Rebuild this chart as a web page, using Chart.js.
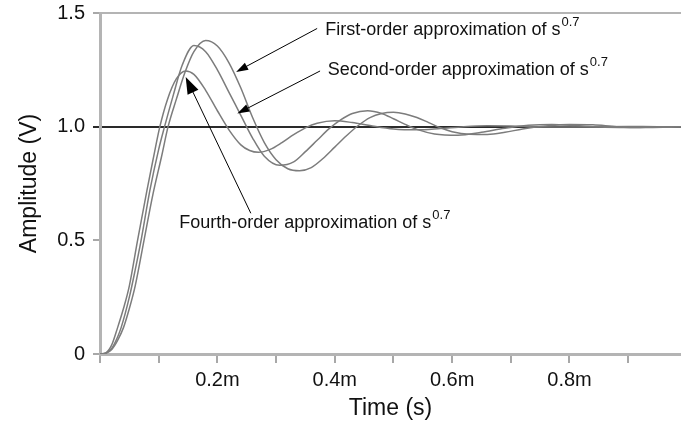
<!DOCTYPE html>
<html>
<head>
<meta charset="utf-8">
<script src="https://cdn.jsdelivr.net/npm/chart.js@4.4.1/dist/chart.umd.min.js"></script>
<style>
  html, body { margin: 0; padding: 0; background: #fff; }
  canvas { display: block; }
</style>
</head>
<body>
<canvas id="stepChart" width="681" height="431"></canvas>
<script>
// step responses, time in ms, amplitude in V
const timeFirst = [0, 0.01, 0.02, 0.03, 0.04, 0.05, 0.06, 0.075, 0.09, 0.105, 0.116, 0.13, 0.145, 0.16, 0.18, 0.20, 0.22, 0.24, 0.26, 0.28, 0.30, 0.32, 0.34, 0.36, 0.38, 0.40, 0.42, 0.44, 0.46, 0.48, 0.50, 0.52, 0.54, 0.56, 0.58, 0.60, 0.63, 0.66, 0.69, 0.72, 0.76, 0.80, 0.84, 0.88, 0.92, 0.96, 0.99];
const ampFirst  = [0, 0.003, 0.02, 0.06, 0.116, 0.2, 0.3, 0.5, 0.7, 0.87, 1.0, 1.12, 1.24, 1.33, 1.379, 1.355, 1.28, 1.17, 1.04, 0.93, 0.855, 0.815, 0.806, 0.82, 0.86, 0.91, 0.96, 1.005, 1.04, 1.058, 1.063, 1.056, 1.04, 1.018, 0.995, 0.978, 0.967, 0.966, 0.975, 0.99, 1.003, 1.01, 1.008, 1.0, 0.996, 0.997, 1.0];

const timeSecond = [0, 0.01, 0.02, 0.03, 0.036, 0.05, 0.06, 0.07, 0.085, 0.10, 0.11, 0.125, 0.14, 0.16, 0.18, 0.20, 0.22, 0.24, 0.26, 0.28, 0.306, 0.33, 0.35, 0.37, 0.39, 0.41, 0.43, 0.456, 0.48, 0.50, 0.52, 0.54, 0.57, 0.61, 0.65, 0.69, 0.73, 0.77, 0.81, 0.85, 0.90, 0.95, 0.99];
const ampSecond  = [0, 0.004, 0.025, 0.075, 0.116, 0.25, 0.37, 0.5, 0.72, 0.9, 1.0, 1.14, 1.27, 1.357, 1.33, 1.25, 1.15, 1.05, 0.95, 0.87, 0.83, 0.845, 0.89, 0.94, 0.99, 1.03, 1.058, 1.07, 1.058, 1.035, 1.01, 0.988, 0.968, 0.962, 0.975, 0.993, 1.006, 1.01, 1.005, 0.998, 0.996, 0.999, 1.0];

const timeFourth = [0, 0.01, 0.02, 0.03, 0.04, 0.05, 0.064, 0.08, 0.09, 0.102, 0.115, 0.13, 0.146, 0.16, 0.18, 0.20, 0.22, 0.24, 0.255, 0.27, 0.29, 0.31, 0.33, 0.35, 0.37, 0.40, 0.43, 0.46, 0.50, 0.54, 0.58, 0.62, 0.66, 0.70, 0.75, 0.80, 0.85, 0.90, 0.95, 0.99];
const ampFourth  = [0, 0.005, 0.04, 0.116, 0.2, 0.3, 0.5, 0.72, 0.85, 1.0, 1.12, 1.21, 1.245, 1.23, 1.16, 1.07, 0.985, 0.92, 0.895, 0.887, 0.9, 0.93, 0.965, 0.995, 1.015, 1.026, 1.018, 1.005, 0.99, 0.986, 0.992, 1.0, 1.004, 1.003, 0.999, 0.998, 1.0, 1.001, 1.0, 1.0];

const xTickLabels = ['', '', '0.2m', '', '0.4m', '', '0.6m', '', '0.8m', ''];
const yTickLabels = ['0', '0.5', '1.0', '1.5'];

// callouts, anchored in data units (ms, V)
const callouts = [
  { text: 'First-order approximation of s', sup: '0.7', at: [0.384, 1.423], from: [0.370, 1.432], to: [0.232, 1.241], head: [12, 4] },
  { text: 'Second-order approximation of s', sup: '0.7', at: [0.388, 1.249], from: [0.375, 1.245], to: [0.234, 1.058], head: [12, 4] },
  { text: 'Fourth-order approximation of s', sup: '0.7', at: [0.135, 0.575], from: [0.257, 0.619], to: [0.146, 1.219], head: [17, 6] }
];

const toPoints = (xs, ys) => xs.map((x, i) => ({ x: x, y: ys[i] }));
const curve = (label, xs, ys) => ({
  label: label,
  data: toPoints(xs, ys),
  borderColor: '#7c7c7c',
  borderWidth: 1.5,
  pointRadius: 0,
  cubicInterpolationMode: 'monotone',
  fill: false
});

const FONT = '"Liberation Sans", Arial, sans-serif';

const calloutPlugin = {
  id: 'callouts',
  afterDatasetsDraw(chart) {
    const { ctx, scales: { x, y } } = chart;
    ctx.save();
    callouts.forEach(c => {
      const x0 = x.getPixelForValue(c.from[0]), y0 = y.getPixelForValue(c.from[1]);
      const x1 = x.getPixelForValue(c.to[0]), y1 = y.getPixelForValue(c.to[1]);
      const ang = Math.atan2(y1 - y0, x1 - x0);
      const [len, half] = c.head;
      ctx.strokeStyle = '#000';
      ctx.fillStyle = '#000';
      ctx.lineWidth = 1;
      ctx.beginPath();
      ctx.moveTo(x0, y0);
      ctx.lineTo(x1 - Math.cos(ang) * len * 0.8, y1 - Math.sin(ang) * len * 0.8);
      ctx.stroke();
      ctx.beginPath();
      ctx.moveTo(x1, y1);
      ctx.lineTo(x1 - Math.cos(ang) * len - Math.sin(ang) * half, y1 - Math.sin(ang) * len + Math.cos(ang) * half);
      ctx.lineTo(x1 - Math.cos(ang) * len + Math.sin(ang) * half, y1 - Math.sin(ang) * len - Math.cos(ang) * half);
      ctx.closePath();
      ctx.fill();

      const tx = x.getPixelForValue(c.at[0]), ty = y.getPixelForValue(c.at[1]);
      ctx.textBaseline = 'middle';
      ctx.textAlign = 'left';
      ctx.font = '18px ' + FONT;
      ctx.fillStyle = '#111';
      ctx.fillText(c.text, tx, ty);
      const w = ctx.measureText(c.text).width;
      ctx.font = '13px ' + FONT;
      ctx.fillText(c.sup, tx + w + 1, ty - 8);
    });
    ctx.restore();
  }
};

const ctx = document.getElementById('stepChart').getContext('2d');
new Chart(ctx, {
  type: 'line',
  data: {
    datasets: [
      curve('First-order', timeFirst, ampFirst),
      curve('Second-order', timeSecond, ampSecond),
      curve('Fourth-order', timeFourth, ampFourth)
    ]
  },
  options: {
    responsive: false,
    animation: false,
    layout: { padding: { top: 13, right: 0, bottom: 0, left: 0 } },
    plugins: {
      legend: { display: false },
      tooltip: { enabled: false }
    },
    scales: {
      x: {
        type: 'linear',
        min: 0,
        max: 0.99,
        afterFit: s => { s.height = 77; s.paddingLeft = 0; s.paddingRight = 0; },
        border: { color: '#b4b4b4', width: 3 },
        grid: { drawOnChartArea: false, tickLength: 9, tickColor: '#a8a8a8', lineWidth: 2 },
        ticks: {
          stepSize: 0.1,
          includeBounds: false,
          autoSkip: false,
          maxRotation: 0,
          padding: 5,
          color: '#111',
          font: { family: FONT, size: 20 },
          callback: v => xTickLabels[Math.round(v * 10)] ?? ''
        },
        title: {
          display: true,
          text: 'Time (s)',
          color: '#111',
          font: { family: FONT, size: 23 },
          padding: { top: 0, bottom: 9 }
        }
      },
      y: {
        min: 0,
        max: 1.5,
        afterFit: s => { s.width = 100; s.paddingTop = 0; s.paddingBottom = 0; },
        border: { color: '#b4b4b4', width: 3 },
        grid: {
          drawOnChartArea: true,
          tickLength: 7,
          lineWidth: 2,
          color: c => c.tick.value === 1 ? '#2a2a2a' : (c.tick.value === 1.5 ? '#b4b4b4' : 'rgba(0,0,0,0)'),
          tickColor: c => c.tick.value === 1 ? '#2a2a2a' : '#a8a8a8'
        },
        ticks: {
          stepSize: 0.5,
          padding: 8,
          color: '#111',
          font: { family: FONT, size: 20 },
          callback: v => yTickLabels[Math.round(v * 2)]
        },
        title: {
          display: true,
          text: 'Amplitude (V)',
          color: '#111',
          font: { family: FONT, size: 23 },
          padding: { top: 16, bottom: 0 }
        }
      }
    }
  },
  plugins: [calloutPlugin]
});
</script>
</body>
</html>
